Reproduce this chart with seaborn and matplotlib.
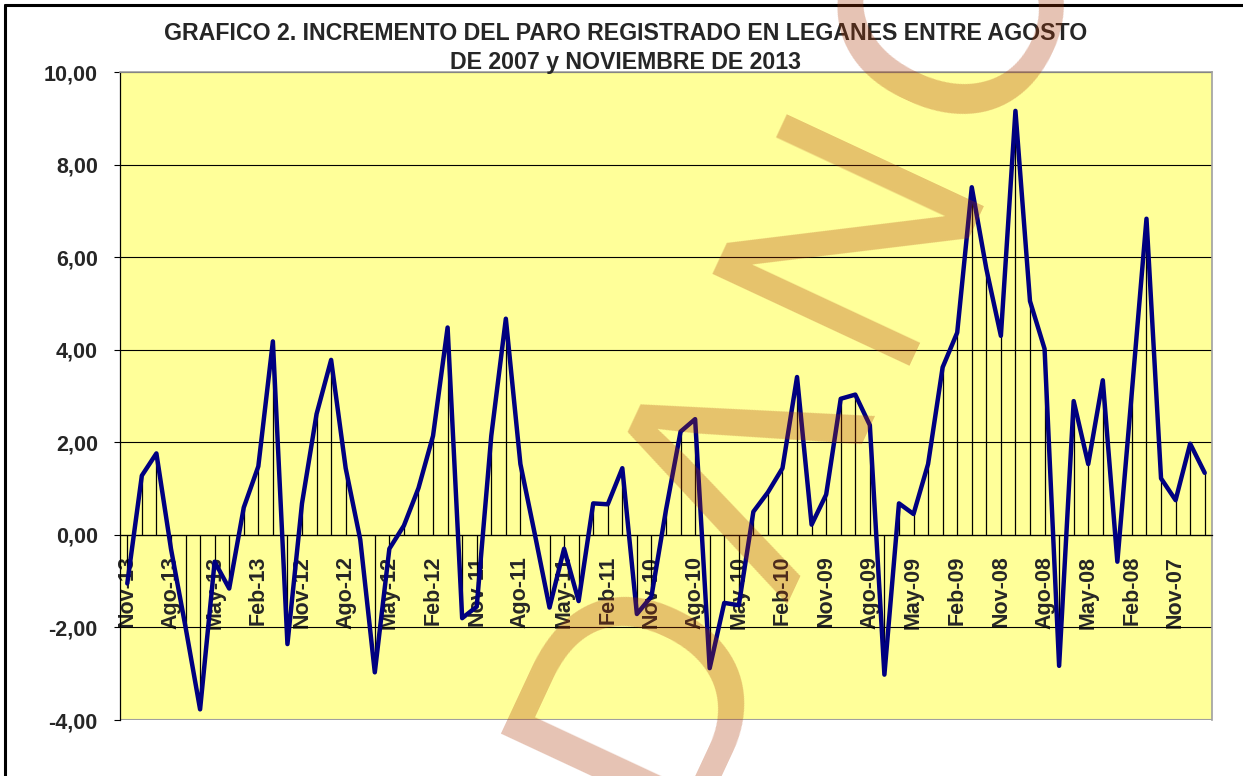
import matplotlib.pyplot as plt
import numpy as np
import pandas as pd
import seaborn as sns
from matplotlib.lines import Line2D

# incremento mensual del paro (%), de Nov-13 hacia atras hasta Sep-07
valores = [-1.05, 1.28, 1.76, -0.30, -1.99, -3.77, -0.58, -1.16, 0.59, 1.48,
           4.18, -2.36, 0.68, 2.61, 3.78, 1.44, -0.10, -2.97, -0.30, 0.20,
           1.01, 2.14, 4.48, -1.80, -1.55, 2.14, 4.67, 1.53, 0.00, -1.57,
           -0.30, -1.43, 0.68, 0.66, 1.44, -1.71, -1.33, 0.54, 2.23, 2.50,
           -2.88, -1.47, -1.52, 0.50, 0.92, 1.44, 3.41, 0.22, 0.87, 2.94,
           3.03, 2.37, -3.02, 0.68, 0.45, 1.53, 3.62, 4.37, 7.51, 5.75,
           4.30, 9.16, 5.05, 4.02, -2.83, 2.89, 1.53, 3.34, -0.58, 3.10,
           6.83, 1.22, 0.75, 1.97, 1.34]

etiquetas = ['Nov-13', 'Ago-13', 'May-13', 'Feb-13', 'Nov-12', 'Ago-12', 'May-12',
             'Feb-12', 'Nov-11', 'Ago-11', 'May-11', 'Feb-11', 'Nov-10', 'Ago-10',
             'May-10', 'Feb-10', 'Nov-09', 'Ago-09', 'May-09', 'Feb-09', 'Nov-08',
             'Ago-08', 'May-08', 'Feb-08', 'Nov-07']

titulo = ['GRAFICO 2. INCREMENTO DEL PARO REGISTRADO EN LEGANES ENTRE AGOSTO',
          'DE 2007 y NOVIEMBRE DE 2013']

# marca de agua del documento (letras y centro en pixeles)
marca = ['D', 'Λ', 'N', 'C']
marca_x = [647, 757, 858, 965]
marca_y = [688, 474, 228, 8]

sns.set_style('white')
plt.rcParams['font.family'] = ['Liberation Sans', 'DejaVu Sans']

W, H = 1243, 776
fig = plt.figure(figsize=(W / 100, H / 100), dpi=100)
ax = fig.add_axes([120 / W, 56 / H, 1092 / W, 648 / H])

df = pd.DataFrame({'pos': np.arange(len(valores)), 'valor': valores})

ax.set_facecolor('#FFFF99')
ax.yaxis.grid(True, color='black', lw=0.8)
ax.set_axisbelow(True)
ax.vlines(df.pos, 0, df.valor, color='black', lw=0.9, zorder=2)
sns.lineplot(data=df, x='pos', y='valor', color='#000080', lw=3.2, ax=ax, zorder=3)

ax.set_xlim(-0.5, len(valores) - 0.5)
ax.set_ylim(-4, 10)
ax.set_xlabel('')
ax.set_ylabel('')

# bordes (antes de los ticks: set_position reinicia los ticks)
for s in ['top', 'right']:
    ax.spines[s].set_color('#A0A0A0')
    ax.spines[s].set_linewidth(1.2)
ax.spines['bottom'].set_position(('data', 0))
ax.spines['bottom'].set_color('black')
ax.spines['bottom'].set_linewidth(0.9)
ax.spines['left'].set_color('black')
ax.spines['left'].set_linewidth(0.9)
ax.axhline(-4, color='#A0A0A0', lw=1.5)

yt = np.arange(-4, 11, 2)
ax.set_yticks(yt)
ax.set_yticklabels([f'{v:.2f}'.replace('.', ',') for v in yt],
                   fontsize=15.5, fontweight='bold')

ax.set_xticks(np.arange(0, len(valores), 3))
ax.set_xticklabels(etiquetas, rotation=90, fontsize=15.5, fontweight='bold')
ax.set_xticks(np.arange(len(valores) + 1) - 0.5, minor=True)
ax.tick_params(axis='x', which='major', length=0, pad=15)
ax.tick_params(axis='x', which='minor', length=4, width=0.8, direction='out', color='black')
ax.tick_params(axis='y', length=4, width=0.8, direction='out', color='black', pad=12, left=True)

fig.text(626 / W, 1 - 33 / H, titulo[0], ha='center', va='center',
         fontsize=16.7, fontweight='bold')
fig.text(626 / W, 1 - 62 / H, titulo[1], ha='center', va='center',
         fontsize=16.7, fontweight='bold')

# borde exterior del grafico
fig.add_artist(Line2D([5 / W, 1], [1 - 5 / H, 1 - 5 / H], color='black', lw=2.2))
fig.add_artist(Line2D([5 / W, 5 / W], [0, 1 - 5 / H], color='black', lw=2.2))

for letra, mx, my in zip(marca, marca_x, marca_y):
    fig.text(mx / W, 1 - my / H, letra, rotation=65, rotation_mode='anchor',
             ha='center', va='center', fontsize=227, color=(172 / 255, 55 / 255, 5 / 255),
             alpha=0.3, zorder=10)

fig.savefig('out.png', dpi=100)
